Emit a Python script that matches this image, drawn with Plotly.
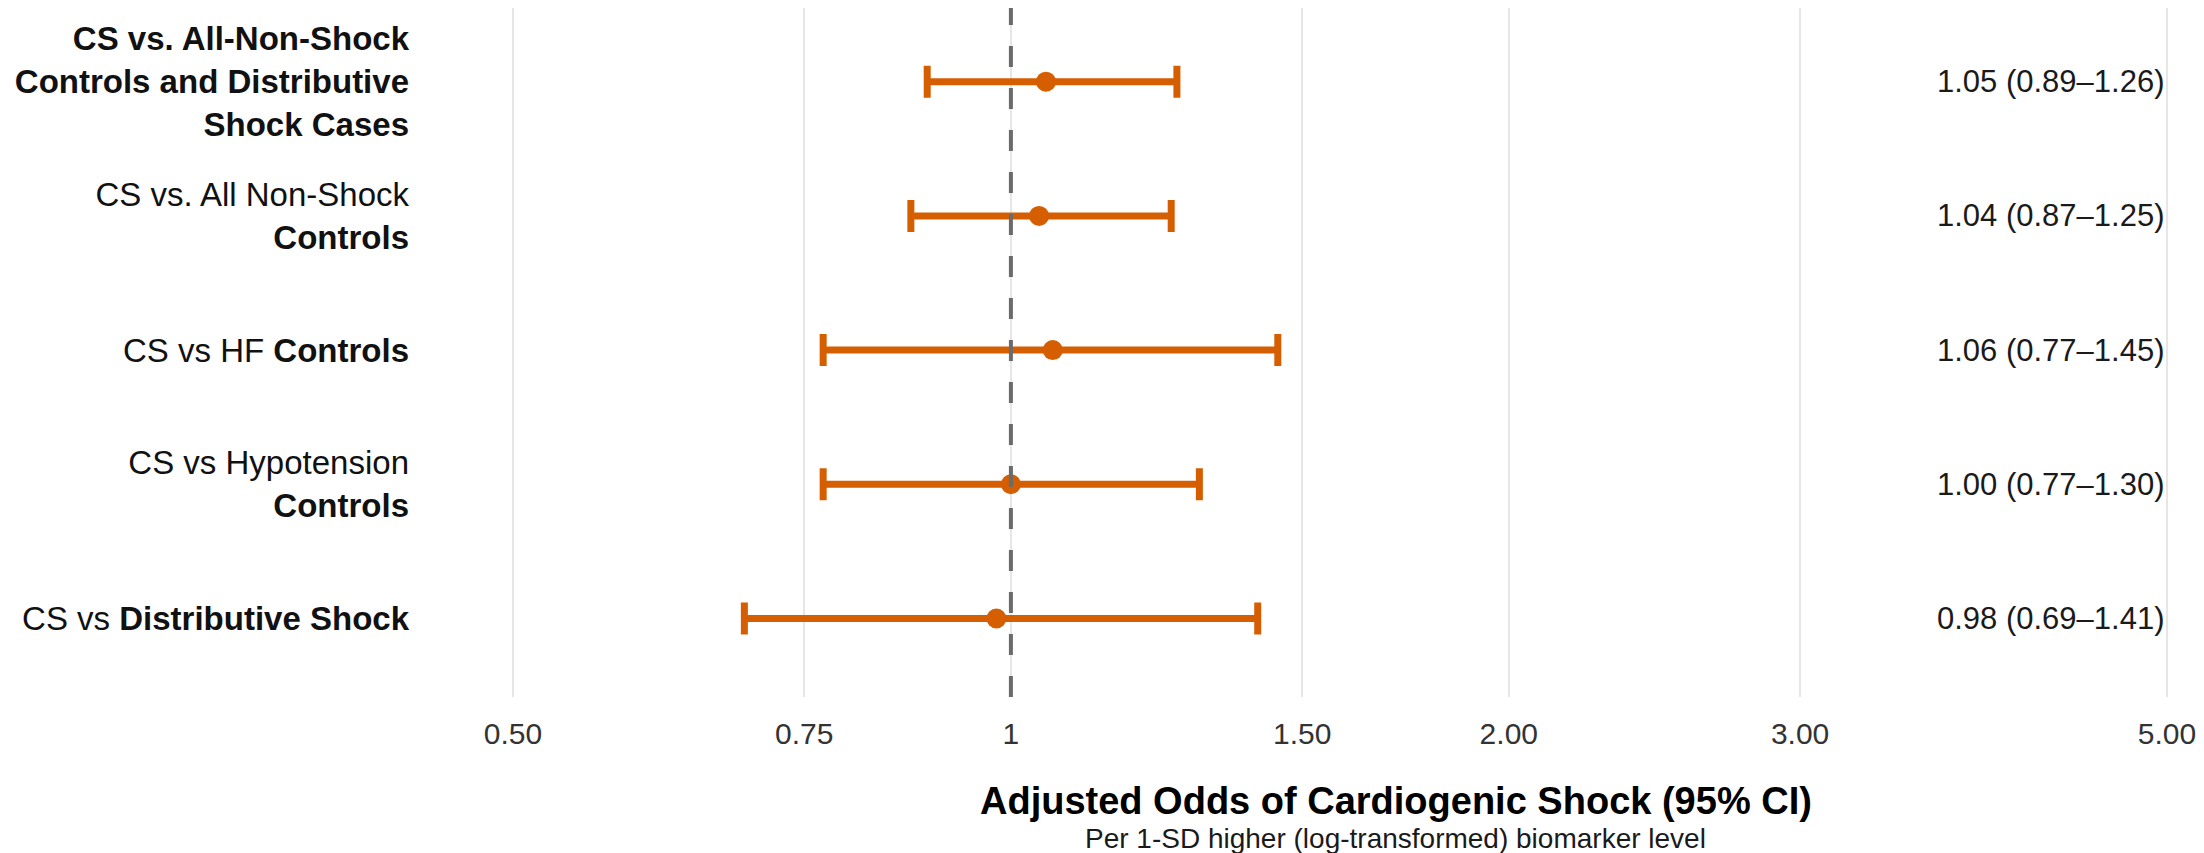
import math
import plotly.graph_objects as go

# ---- data ----
labels = [
    "<b>CS vs. All-Non-Shock<br>Controls and Distributive<br>Shock Cases</b>",
    "CS vs. All Non-Shock<br><b>Controls</b>",
    "CS vs HF <b>Controls</b>",
    "CS vs Hypotension<br><b>Controls</b>",
    "CS vs <b>Distributive Shock</b>",
]
odds_ratio = [1.05, 1.04, 1.06, 1.00, 0.98]
ci_low = [0.89, 0.87, 0.77, 0.77, 0.69]
ci_high = [1.26, 1.25, 1.45, 1.30, 1.41]
or_text = ["1.05 (0.89–1.26)", "1.04 (0.87–1.25)", "1.06 (0.77–1.45)",
           "1.00 (0.77–1.30)", "0.98 (0.69–1.41)"]
tick_vals = [0.5, 0.75, 1, 1.5, 2, 3, 5]
tick_text = ["0.50", "0.75", "1", "1.50", "2.00", "3.00", "5.00"]

ORANGE = "#D55E00"
FONT = "Liberation Sans, Arial, sans-serif"

n = len(labels)
ypos = list(range(n, 0, -1))  # top row first

fig = go.Figure()
fig.add_trace(go.Scatter(
    x=odds_ratio, y=ypos, mode="markers",
    marker=dict(color=ORANGE, size=20, symbol="circle"),
    error_x=dict(type="data", symmetric=False,
                 array=[h - o for h, o in zip(ci_high, odds_ratio)],
                 arrayminus=[o - l for o, l in zip(odds_ratio, ci_low)],
                 color=ORANGE, thickness=7, width=16),
    showlegend=False, hoverinfo="skip",
))

# reference line at OR = 1 (drawn from bottom to top)
fig.add_shape(type="line", xref="x", yref="y", x0=1, x1=1, y0=0.415, y1=5.549,
              line=dict(color="#6b6b6b", width=4, dash="21px,21px"), layer="above")

# right-hand OR (95% CI) text
for y, t in zip(ypos, or_text):
    fig.add_annotation(x=math.log10(5), y=y, xref="x", yref="y", text=t,
                       showarrow=False, xanchor="right", yanchor="middle",
                       font=dict(family=FONT, size=31, color="#1a1a1a"))

# axis title and subtitle
fig.add_annotation(x=0.5577, y=-0.151, xref="paper", yref="paper",
                   text="<b>Adjusted Odds of Cardiogenic Shock (95% CI)</b>",
                   showarrow=False, xanchor="center", yanchor="middle",
                   font=dict(family=FONT, size=38, color="#000000"))
fig.add_annotation(x=0.5577, y=-0.206, xref="paper", yref="paper",
                   text="Per 1-SD higher (log-transformed) biomarker level",
                   showarrow=False, xanchor="center", yanchor="middle",
                   font=dict(family=FONT, size=28, color="#1a1a1a"))

fig.update_xaxes(type="log", range=[-0.35726, 0.70078],
                 tickvals=tick_vals, ticktext=tick_text,
                 showgrid=True, gridcolor="#e6e6e6", gridwidth=2,
                 zeroline=False, showline=False, ticks="",
                 tickfont=dict(family=FONT, size=30, color="#333333"),
                 ticklabelstandoff=16)
fig.update_yaxes(range=[0.415, 5.549], tickvals=ypos, ticktext=labels,
                 showgrid=False, zeroline=False, showline=False, ticks="",
                 tickfont=dict(family=FONT, size=33, color="#111111"),
                 ticklabelstandoff=10)

fig.update_layout(
    width=2196, height=845,
    margin=dict(l=412, r=34, t=0, b=156),
    paper_bgcolor="white", plot_bgcolor="white",
    font=dict(family=FONT),
)

fig.write_html("out.html")
